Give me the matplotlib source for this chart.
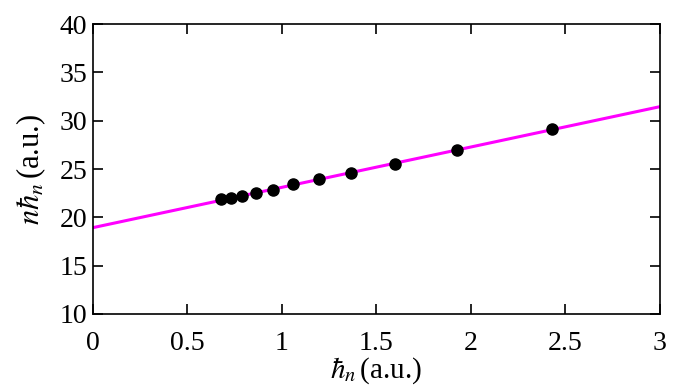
import matplotlib
matplotlib.use('Agg')
import matplotlib.pyplot as plt

# data
hbar_n = [0.677, 0.730, 0.790, 0.864, 0.952, 1.058, 1.198, 1.367, 1.598, 1.926, 2.429]
n_hbar_n = [21.85, 21.95, 22.2, 22.5, 22.85, 23.4, 23.98, 24.62, 25.55, 27.0, 29.15]
fit_x = [0.0, 3.0]
fit_y = [18.93, 31.45]

plt.rcParams['font.family'] = 'Liberation Serif'
plt.rcParams['mathtext.fontset'] = 'stix'
plt.rcParams['font.size'] = 20

fig = plt.figure(figsize=(6.78, 3.89), dpi=100)
ax = fig.add_axes([0.137, 0.193, 0.836, 0.745])

ax.plot(fit_x, fit_y, color='#ff00ff', linewidth=2.2, zorder=2)
ax.plot(hbar_n, n_hbar_n, 'o', color='black', markersize=8, zorder=3)

ax.set_xlim(0, 3)
ax.set_ylim(10, 40)
ax.set_xticks([0, 0.5, 1, 1.5, 2, 2.5, 3])
ax.set_xticklabels(['0', '0.5', '1', '1.5', '2', '2.5', '3'])
ax.set_yticks([10, 15, 20, 25, 30, 35, 40])
ax.tick_params(direction='in', top=True, right=True, length=7, width=1.2)
ax.tick_params(axis='x', pad=12)
ax.tick_params(axis='y', pad=4)
for s in ax.spines.values():
    s.set_linewidth(1.2)

ax.set_xlabel(r'$\hbar_n\,$(a.u.)', fontsize=21, labelpad=0)
ax.set_ylabel(r'$n\hbar_n\,$(a.u.)', fontsize=22, labelpad=8)

fig.savefig('out.png', dpi=100)
